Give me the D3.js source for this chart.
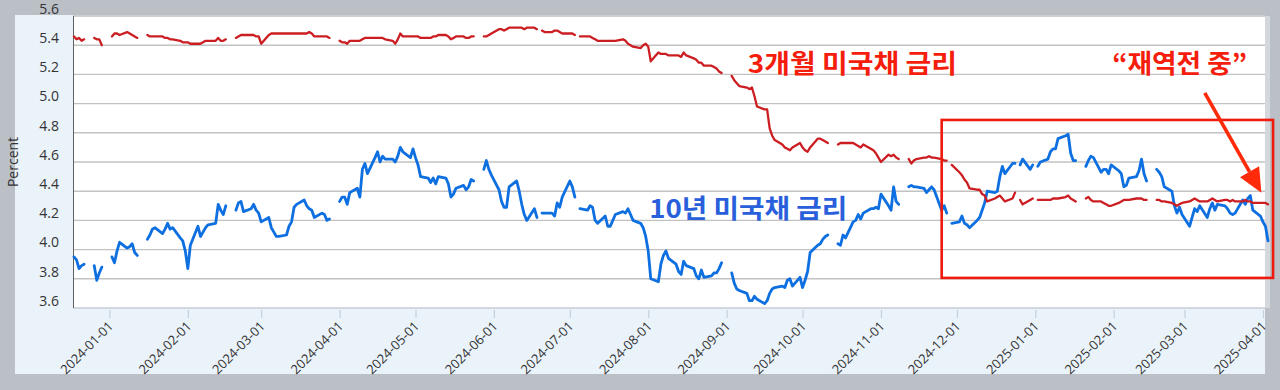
<!DOCTYPE html>
<html><head><meta charset="utf-8">
<script src="https://cdn.jsdelivr.net/npm/d3@7"></script>
<style>
html,body{margin:0;padding:0;background:#bbc0c7;}
svg{display:block;}
</style></head><body>
<svg id="chart" width="1280" height="390"></svg>
<script>
// ---------- DATA (business days; null = market holiday) ----------
const startDate = "2023-12-18";
const endDate = "2025-04-03";
const monthKeys = ["2023-12","2024-01","2024-02","2024-03","2024-04","2024-05","2024-06","2024-07","2024-08","2024-09","2024-10","2024-11","2024-12","2025-01","2025-02","2025-03","2025-04"];

// 10-year Treasury yield (%)
const y10_2023_12 = [3.95,3.93,3.87,3.89,3.90,null,3.89,3.79,3.84,3.88];
const y10_2024_01 = [null,3.95,3.91,3.99,4.05,4.01,4.02,4.04,3.98,3.96,null,4.07,4.10,4.14,4.15,4.11,4.14,4.18,4.14,4.15,4.08,4.06,3.99];
const y10_2024_02 = [3.87,4.03,4.16,4.09,4.12,4.15,4.17,4.18,4.31,4.27,4.24,4.30,null,4.27,4.32,4.33,4.26,4.28,4.31,4.27,4.25];
const y10_2024_03 = [4.19,4.22,4.15,4.12,4.09,4.09,4.10,4.16,4.19,4.29,4.31,4.34,4.30,4.28,4.27,4.22,4.25,4.24,4.20,4.21,null];
const y10_2024_04 = [4.33,4.36,4.36,4.31,4.39,4.42,4.36,4.55,4.59,4.52,4.63,4.67,4.60,4.64,4.62,4.62,4.60,4.64,4.70,4.67,4.63,4.69];
const y10_2024_05 = [4.63,4.58,4.50,4.49,4.46,4.49,4.45,4.50,4.49,4.45,4.36,4.38,4.42,4.44,4.41,4.43,4.48,4.47,null,4.55,4.61,4.55,4.51];
const y10_2024_06 = [4.41,4.33,4.29,4.29,4.43,4.47,4.40,4.31,4.24,4.20,4.28,4.22,null,4.25,4.25,4.25,4.23,4.32,4.29,4.36];
const y10_2024_07 = [4.47,4.43,4.36,null,4.28,4.27,4.30,4.29,4.20,4.18,4.23,4.16,4.16,4.20,4.24,4.26,4.25,4.28,4.24,4.20,4.18,4.15,4.09];
const y10_2024_08 = [3.99,3.80,3.78,3.90,3.96,3.99,3.94,3.90,3.85,3.83,3.92,3.89,3.87,3.82,3.80,3.86,3.81,3.82,3.84,3.84,3.87,3.91];
const y10_2024_09 = [null,3.84,3.77,3.73,3.72,3.70,3.65,3.65,3.68,3.66,3.63,3.65,3.70,3.73,3.74,3.75,3.74,3.79,3.80,3.75,3.81];
const y10_2024_10 = [3.74,3.79,3.85,3.98,4.03,4.04,4.07,4.09,4.10,null,4.04,4.03,4.10,4.08,4.19,4.20,4.24,4.21,4.25,4.28,4.28,4.29,4.28];
const y10_2024_11 = [4.38,4.30,4.27,4.43,4.33,4.31,null,4.43,4.44,4.43,4.43,4.42,4.39,4.41,4.43,4.41,4.27,4.30,4.25,null,4.18];
const y10_2024_12 = [4.19,4.23,4.18,4.17,4.15,4.20,4.22,4.27,4.32,4.40,4.39,4.40,4.50,4.57,4.52,4.59,4.59,null,4.58,4.62,4.55,4.58];
const y10_2025_01 = [null,4.57,4.60,4.62,4.67,4.69,4.69,4.76,4.78,4.79,4.66,4.61,4.61,null,4.57,4.61,4.64,4.63,4.53,4.55,4.55,4.52,4.58];
const y10_2025_02 = [4.54,4.52,4.43,4.44,4.49,4.50,4.54,4.62,4.52,4.47,null,4.55,4.53,4.50,4.43,4.40,4.30,4.25,4.29,4.24];
const y10_2025_03 = [4.16,4.22,4.28,4.26,4.30,4.22,4.28,4.32,4.27,4.31,4.30,4.28,4.25,4.24,4.25,4.34,4.31,4.35,4.37,4.27,4.23];
const y10_2025_04 = [4.19,4.16,4.06];

// 3-month Treasury yield (%)
const m3_2023_12 = [5.46,5.44,5.45,5.43,5.44,null,5.45,5.44,5.44,5.40];
const m3_2024_01 = [null,5.46,5.48,5.48,5.47,5.49,5.48,5.47,5.46,5.45,null,5.47,5.46,5.46,5.46,5.46,5.45,5.45,5.44,5.44,5.43,5.42,5.42];
const m3_2024_02 = [5.42,5.41,5.41,5.41,5.42,5.43,5.43,5.43,5.45,5.43,5.43,5.44,null,5.45,5.46,5.47,5.47,5.47,5.47,5.46,5.46];
const m3_2024_03 = [5.41,5.47,5.48,5.48,5.48,5.48,5.48,5.48,5.48,5.48,5.48,5.48,5.48,5.49,5.48,5.46,5.46,5.46,5.46,5.45,null];
const m3_2024_04 = [5.43,5.42,5.42,5.41,5.43,5.43,5.43,5.44,5.45,5.45,5.45,5.45,5.45,5.45,5.44,5.43,5.41,5.44,5.48,5.46,5.46,5.46];
const m3_2024_05 = [5.46,5.46,5.45,5.45,5.45,5.46,5.46,5.47,5.47,5.46,5.44,5.45,5.46,5.46,5.45,5.45,5.46,5.46,null,5.46,5.46,5.47,5.48];
const m3_2024_06 = [5.51,5.51,5.50,5.51,5.52,5.52,5.52,5.52,5.51,5.52,5.52,5.51,null,5.50,5.49,5.49,5.50,5.50,5.49,5.48];
const m3_2024_07 = [5.48,5.48,5.47,null,5.46,5.46,5.46,5.45,5.44,5.43,5.43,5.43,5.43,5.43,5.43,5.44,5.43,5.41,5.40,5.39,5.38,5.40,5.41];
const m3_2024_08 = [5.39,5.29,5.35,5.34,5.34,5.34,5.33,5.33,5.33,5.32,5.35,5.33,5.31,5.30,5.28,5.28,5.26,5.26,5.25,5.24,5.22,5.21];
const m3_2024_09 = [null,5.19,5.16,5.14,5.12,5.11,5.10,5.11,5.05,4.98,4.96,4.96,4.83,4.78,4.75,4.72,4.70,4.69,4.68,4.70,4.73];
const m3_2024_10 = [4.70,4.68,4.67,4.70,4.76,4.76,4.75,4.74,4.73,null,4.72,4.73,4.73,4.73,4.73,4.72,4.71,4.70,4.72,4.69,4.68,4.66,4.63];
const m3_2024_11 = [4.60,4.65,4.64,4.65,4.63,4.62,null,4.62,4.59,4.61,4.62,4.63,4.63,4.64,4.63,4.63,4.62,4.61,4.61,null,4.58];
const m3_2024_12 = [4.53,4.51,4.48,4.46,4.42,4.41,4.41,4.38,4.37,4.33,4.35,4.36,4.37,4.35,4.33,4.35,4.39,null,4.34,4.31,4.34,4.35];
const m3_2025_01 = [null,4.34,4.34,4.34,4.34,4.35,4.35,4.35,4.36,4.37,4.35,4.34,4.33,null,4.35,4.36,4.34,4.33,4.33,4.32,4.31,4.30,4.30];
const m3_2025_02 = [4.32,4.33,4.34,4.34,4.34,4.35,4.35,4.35,4.34,4.34,null,4.34,4.34,4.33,4.33,4.32,4.31,4.30,4.31,4.32];
const m3_2025_03 = [4.33,4.34,4.35,4.34,4.33,4.33,4.34,4.35,4.34,4.33,4.34,4.34,4.33,4.34,4.33,4.33,4.34,4.33,4.33,4.32,4.32];
const m3_2025_04 = [4.32,4.32,4.31];

const yTickValues = [3.6,3.8,4.0,4.2,4.4,4.6,4.8,5.0,5.2,5.4,5.6];
const xTickLabels = ["2024-01-01","2024-02-01","2024-03-01","2024-04-01","2024-05-01","2024-06-01","2024-07-01","2024-08-01","2024-09-01","2024-10-01","2024-11-01","2024-12-01","2025-01-01","2025-02-01","2025-03-01","2025-04-01"];
const yAxisTitle = "Percent";
const label3m = "3개월 미국채 금리";
const label10y = "10년 미국채 금리";
const labelInversion = "“재역전 중”";

const y10Months = [y10_2023_12,y10_2024_01,y10_2024_02,y10_2024_03,y10_2024_04,y10_2024_05,y10_2024_06,y10_2024_07,y10_2024_08,y10_2024_09,y10_2024_10,y10_2024_11,y10_2024_12,y10_2025_01,y10_2025_02,y10_2025_03,y10_2025_04];
const m3Months = [m3_2023_12,m3_2024_01,m3_2024_02,m3_2024_03,m3_2024_04,m3_2024_05,m3_2024_06,m3_2024_07,m3_2024_08,m3_2024_09,m3_2024_10,m3_2024_11,m3_2024_12,m3_2025_01,m3_2025_02,m3_2025_03,m3_2025_04];

// ---------- BUILD SERIES ----------
const parse = d3.utcParse("%Y-%m-%d");
const fmtMonth = d3.utcFormat("%Y-%m");
const t0 = parse(startDate), t1 = parse(endDate);
const bdays = d3.utcDays(t0, d3.utcDay.offset(t1, 1)).filter(d => d.getUTCDay() > 0 && d.getUTCDay() < 6);
const byMonth = d3.group(bdays, fmtMonth);
function buildSeries(monthArrays) {
  const out = [];
  monthKeys.forEach((k, i) => {
    const days = byMonth.get(k) || [];
    const vals = monthArrays[i];
    days.forEach((d, j) => out.push({date: d, v: j < vals.length ? vals[j] : null}));
  });
  return out;
}
const s10 = buildSeries(y10Months);
const s3 = buildSeries(m3Months);

// ---------- LAYOUT ----------
const svg = d3.select("#chart");
const plotL = 73, plotR = 1265, plotT = 16, plotB = 308;
const x = d3.scaleUtc().domain([t0, t1]).range([74, 1268]);
const y = d3.scaleLinear().domain([3.6, 5.6]).range([plotB, plotT]);

svg.append("rect").attr("x",0).attr("y",0).attr("width",1280).attr("height",390).attr("fill","#bbc0c7");
svg.append("rect").attr("x",15).attr("y",15).attr("width",1250).attr("height",359).attr("fill","#eaf2fa");
svg.append("rect").attr("x",plotL).attr("y",plotT).attr("width",plotR-plotL).attr("height",plotB-plotT).attr("fill","#ffffff");
svg.append("rect").attr("x",plotR).attr("y",plotT).attr("width",5).attr("height",plotB-plotT).attr("fill","#d4d7db");

// gridlines
svg.append("g").selectAll("line").data(yTickValues.slice(1)).join("line")
  .attr("x1",plotL).attr("x2",plotR)
  .attr("y1",d=>y(d)).attr("y2",d=>y(d))
  .attr("stroke","#c2c2c2").attr("stroke-width",1.4);
svg.append("line").attr("x1",plotL).attr("x2",plotR).attr("y1",plotB).attr("y2",plotB)
  .attr("stroke","#c6ccd6").attr("stroke-width",1.5);
svg.append("line").attr("x1",plotL+0.5).attr("x2",plotL+0.5).attr("y1",plotT).attr("y2",plotB)
  .attr("stroke","#606060").attr("stroke-width",1);

// y labels
svg.append("g").selectAll("text").data(yTickValues).join("text")
  .attr("x",59).attr("y",d=>y(d)-6)
  .attr("text-anchor","end").attr("dominant-baseline","middle")
  .style("font-family","'Open Sans', sans-serif").style("font-size","14px").attr("fill","#333")
  .text(d=>d3.format(".1f")(d));
svg.append("text").attr("transform",`translate(14,${(plotT+plotB)/2}) rotate(-90)`)
  .attr("text-anchor","middle").attr("dominant-baseline","middle")
  .style("font-family","'Open Sans', sans-serif").style("font-size","14px").attr("fill","#333")
  .text(yAxisTitle);

// x axis
const xAxis = d3.axisBottom(x).tickValues(xTickLabels.map(parse))
  .tickFormat(d3.utcFormat("%Y-%m-%d")).tickSize(10).tickSizeOuter(0);
const gx = svg.append("g").attr("transform",`translate(0,${plotB})`).call(xAxis);
gx.select(".domain").remove();
gx.selectAll(".tick line").attr("stroke","#c5d0dc").attr("stroke-width",1.2).attr("y1",2);
gx.selectAll(".tick text")
  .attr("x",0).attr("y",0).attr("dy",0)
  .attr("transform","translate(4,19) rotate(-45)")
  .attr("text-anchor","end")
  .style("font-family","'Open Sans', sans-serif").style("font-size","13px").attr("fill","#333");

// lines
const line = d3.line().defined(d => d.v != null).x(d => x(d.date)).y(d => y(d.v));
svg.append("path").datum(s10).attr("d",line).attr("fill","none")
  .attr("stroke","#0d6fe0").attr("stroke-width",2.8).attr("stroke-linejoin","round").attr("stroke-linecap","round");
svg.append("path").datum(s3).attr("d",line).attr("fill","none")
  .attr("stroke","#cc1e22").attr("stroke-width",2.3).attr("stroke-linejoin","round").attr("stroke-linecap","round");

// annotations (anchored in data coordinates)
const at = s => parse(s);
const korFont = "'Noto Sans CJK KR', 'Noto Sans', sans-serif";
svg.append("text").attr("x",x(at("2024-09-09"))+1).attr("y",y(5.21))
  .style("font-family",korFont).style("font-weight","700").style("font-size","26px")
  .attr("fill","#f51d0c").attr("textLength",209).attr("lengthAdjust","spacingAndGlyphs").text(label3m);
svg.append("text").attr("x",x(at("2024-08-01"))+1).attr("y",y(4.216))
  .style("font-family",korFont).style("font-weight","700").style("font-size","26px")
  .attr("fill","#2a5fdc").attr("textLength",198).attr("lengthAdjust","spacingAndGlyphs").text(label10y);
svg.append("text").attr("x",x(at("2025-01-31"))+1).attr("y",y(5.21))
  .style("font-family",korFont).style("font-weight","700").style("font-size","26px")
  .attr("fill","#f51d0c").attr("textLength",135).attr("lengthAdjust","spacingAndGlyphs").text(labelInversion);

// highlight box
const bx0 = x(at("2024-11-25")), bx1 = x(at("2025-04-05"));
const by0 = y(4.888), by1 = y(3.806);
svg.append("rect").attr("x",bx0).attr("y",by0).attr("width",bx1-bx0).attr("height",by1-by0)
  .attr("fill","none").attr("stroke","#ee1a0c").attr("stroke-width",2.6);

// arrow
const ax0 = x(at("2025-03-09")), ay0 = y(5.073);
const ax1 = x(at("2025-03-31")) + 1, ay1 = y(4.39);
const ang = Math.atan2(ay1-ay0, ax1-ax0);
const headLen = 24, headW = 11;
const bxh = ax1 - headLen*Math.cos(ang), byh = ay1 - headLen*Math.sin(ang);
svg.append("line").attr("x1",ax0).attr("y1",ay0).attr("x2",bxh).attr("y2",byh)
  .attr("stroke","#ff2a0a").attr("stroke-width",3.6);
const px = -Math.sin(ang), py = Math.cos(ang);
svg.append("path")
  .attr("d",`M${ax1},${ay1}L${bxh+px*headW},${byh+py*headW}L${bxh-px*headW},${byh-py*headW}Z`)
  .attr("fill","#ff2a0a");
</script>
</body></html>
